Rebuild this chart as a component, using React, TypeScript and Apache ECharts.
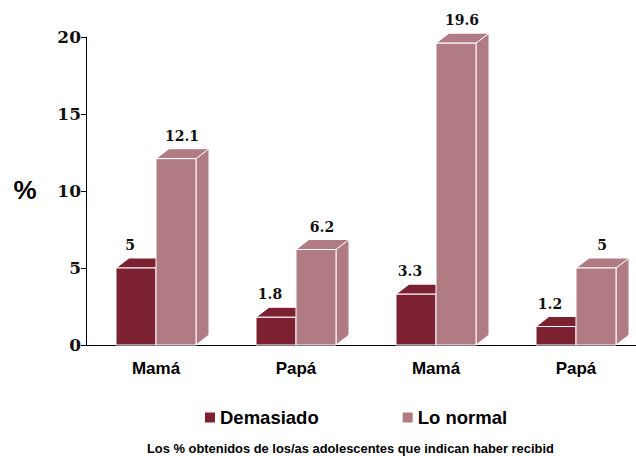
import React, { useEffect, useRef } from "react";
import * as echarts from "echarts";

const categories = ["Mamá", "Papá", "Mamá", "Papá"];
const demasiado = [5, 1.8, 3.3, 1.2];
const loNormal = [12.1, 6.2, 19.6, 5];
const seriesNames = ["Demasiado", "Lo normal"];
const yTicks = { min: 0, max: 20, interval: 5 };
const footnote = "Los % obtenidos de los/as adolescentes que indican haber recibid";

const COLORS = ["#7B2131", "#B07B83"];
const DX = 13;
const DY = 10;

function makeRender(seriesIdx: number) {
  return (params: any, api: any) => {
    const cat = api.value(0);
    const val = api.value(1);
    const [cx, y] = api.coord([cat, val]);
    const [, y0] = api.coord([cat, 0]);
    const catW = api.size([1, 0])[0];
    const w = catW * (40 / 140);
    const x = seriesIdx === 0 ? cx - w : cx;
    const color = COLORS[seriesIdx];
    const stroke = { stroke: "#ffffff", lineWidth: 1 };
    const labelX = seriesIdx === 0 ? x + w / 2 - 6 : x + w / 2 + 6;
    return {
      type: "group",
      children: [
        {
          type: "polygon",
          shape: {
            points: [
              [x + w, y],
              [x + w + DX, y - DY],
              [x + w + DX, y0 - DY],
              [x + w, y0],
            ],
          },
          style: { fill: color, ...stroke },
        },
        {
          type: "polygon",
          shape: {
            points: [
              [x, y],
              [x + DX, y - DY],
              [x + w + DX, y - DY],
              [x + w, y],
            ],
          },
          style: { fill: color, ...stroke },
        },
        {
          type: "rect",
          shape: { x, y, width: w, height: y0 - y },
          style: { fill: color, ...stroke },
        },
        {
          type: "text",
          x: labelX,
          y: y - DY - 13,
          style: {
            text: String(val),
            fill: "#111111",
            font: "bold 14px 'DejaVu Serif'",
            align: "center",
            verticalAlign: "middle",
          },
        },
      ],
    };
  };
}

export default function App() {
  const ref = useRef<HTMLDivElement>(null);
  useEffect(() => {
    if (!ref.current) return;
    document.body.style.overflow = "hidden";
    const chart = echarts.init(ref.current, null, { renderer: "svg" });
    const toData = (arr: number[]) => arr.map((v, i) => [i, v]);
    chart.setOption({
      animation: false,
      backgroundColor: "#ffffff",
      grid: { left: 86, top: 37, width: 560, height: 308 },
      legend: {
        left: 200,
        top: 403,
        itemWidth: 10,
        itemHeight: 10,
        itemGap: 84,
        icon: "rect",
        textStyle: {
          fontFamily: "'Liberation Sans', Arial, sans-serif",
          fontWeight: "bold",
          fontSize: 18.5,
          color: "#000",
        },
        data: seriesNames,
      },
      xAxis: {
        type: "category",
        data: categories,
        axisLine: { lineStyle: { color: "#000", width: 1 } },
        axisTick: { show: false },
        axisLabel: {
          margin: 15,
          fontFamily: "'Liberation Sans', Arial, sans-serif",
          fontWeight: "bold",
          fontSize: 17,
          color: "#000",
        },
      },
      yAxis: {
        type: "value",
        min: yTicks.min,
        max: yTicks.max,
        interval: yTicks.interval,
        splitLine: { show: false },
        axisLine: { show: true, lineStyle: { color: "#000", width: 1 } },
        axisTick: { show: true, length: 5, lineStyle: { color: "#000" } },
        axisLabel: {
          margin: 5,
          fontFamily: "'DejaVu Serif', serif",
          fontWeight: "bold",
          fontSize: 17,
          color: "#111",
        },
      },
      graphic: [
        {
          type: "text",
          x: 25,
          y: 190,
          style: {
            text: "%",
            font: "bold 26px 'Liberation Sans', Arial, sans-serif",
            fill: "#000",
            align: "center",
            verticalAlign: "middle",
          },
        },
        {
          type: "text",
          x: 147,
          y: 448,
          style: {
            text: footnote,
            font: "bold 12.9px 'Liberation Sans', Arial, sans-serif",
            fill: "#000",
            align: "left",
            verticalAlign: "middle",
          },
        },
      ],
      series: [
        {
          name: seriesNames[0],
          type: "custom",
          itemStyle: { color: COLORS[0] },
          renderItem: makeRender(0),
          encode: { x: 0, y: 1 },
          data: toData(demasiado),
          clip: false,
        },
        {
          name: seriesNames[1],
          type: "custom",
          itemStyle: { color: COLORS[1] },
          renderItem: makeRender(1),
          encode: { x: 0, y: 1 },
          data: toData(loNormal),
          clip: false,
        },
      ],
    });
    return () => chart.dispose();
  }, []);
  return (
    <div
      ref={ref}
      style={{ position: "fixed", left: 0, top: 0, width: 660, height: 456 }}
    />
  );
}
